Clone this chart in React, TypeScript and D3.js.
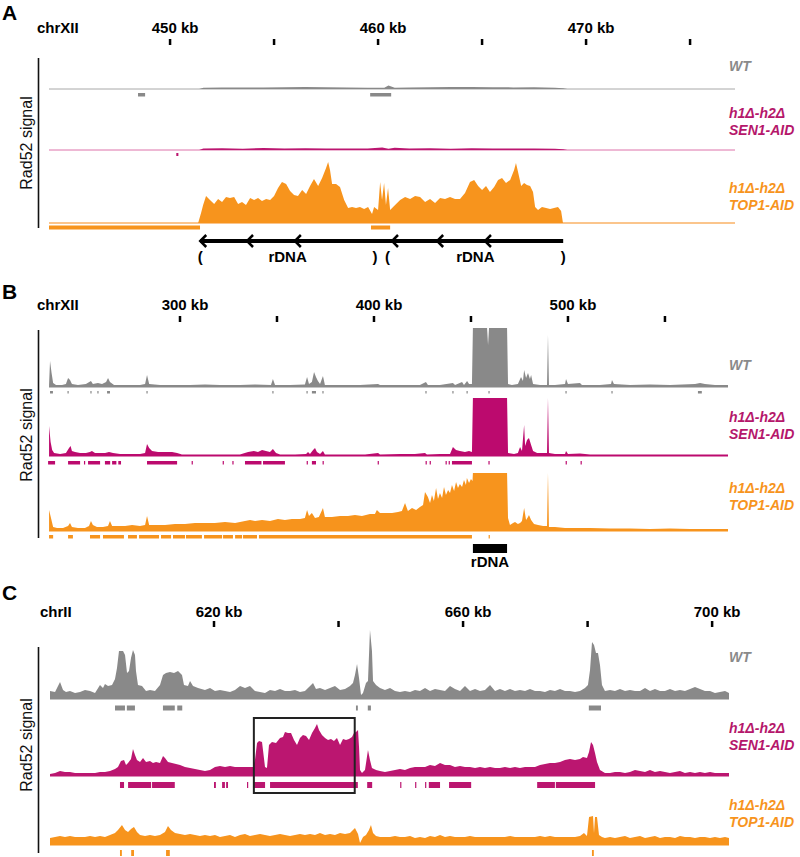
import React, { useRef, useEffect } from 'react';
import * as d3 from 'd3';

const FONT = "'Liberation Sans', Arial, Helvetica, sans-serif";
const GRAY = '#898989';
const GRAY_LIGHT = '#a8a8a8';
const MAGENTA = '#bb1670';
const MAGENTA_LIGHT = '#dd72aa';
const ORANGE = '#f7941d';
const ORANGE_LIGHT = '#fbc58c';

// ---------- panel A : chrXII, rDNA close-up (kb, signal) ----------
const A_TICKS = [450, 455, 460, 465, 470, 475];
const A_TICK_LABELS = [450, 460, 470];
const A_WT = [[444.18, 0], [451.4, 0], [451.6, 1.2], [452.5, 1.4], [453.5, 1.6], [454.5, 1.5], [455.5, 1.8], [456.5, 2], [457.5, 1.8], [458.5, 1.6], [459.5, 1.3], [460.3, 1.2], [460.5, 3.5], [460.8, 1.2], [461.5, 1.5], [462.5, 1.8], [463.5, 2], [464.5, 2], [465.5, 1.8], [466.5, 1.6], [467.5, 1.8], [468.5, 1.2], [468.9, 0.8], [469.1, 0], [477.16, 0]];
const A_SEN1 = [[444.18, 0], [451.4, 0], [451.6, 1.5], [452.5, 1.8], [453.5, 1.2], [454.5, 2], [455.5, 1.5], [456.5, 1.8], [457.5, 1.4], [458.5, 1.6], [459.5, 1.5], [460.2, 2.5], [460.5, 1.2], [460.8, 2.2], [461.5, 1.5], [462.5, 1.8], [463.5, 1.2], [464.5, 1.8], [465.5, 1.4], [466.5, 1.6], [467.5, 1.5], [468.5, 1.2], [468.9, 0.8], [469.1, 0], [477.16, 0]];
const A_TOP1 = [[444.18, 0], [451.35, 0], [451.49, 10], [451.59, 18], [451.73, 27], [451.92, 23], [452.12, 19], [452.31, 24], [452.5, 21], [452.69, 26], [452.88, 25], [453.08, 26], [453.27, 19], [453.46, 21], [453.65, 18], [453.85, 25], [454.04, 23], [454.23, 25], [454.42, 22], [454.62, 24], [454.81, 23], [455.0, 27], [455.19, 35], [455.38, 41], [455.58, 39], [455.77, 32], [455.96, 28], [456.15, 27], [456.35, 33], [456.54, 29], [456.73, 37], [456.92, 44], [457.12, 37], [457.31, 45], [457.5, 55], [457.6, 61], [457.69, 53], [457.79, 39], [457.98, 39], [458.17, 36], [458.37, 23], [458.56, 15], [458.75, 16], [458.94, 15], [459.13, 16], [459.33, 14], [459.52, 16], [459.71, 9], [459.81, 16], [460.0, 13], [460.1, 41], [460.19, 23], [460.29, 40], [460.38, 18], [460.48, 35], [460.58, 13], [460.77, 17], [461.06, 23], [461.3, 26], [461.54, 24], [461.78, 27], [462.02, 26], [462.26, 21], [462.5, 24], [462.74, 20], [462.98, 25], [463.22, 24], [463.46, 26], [463.7, 24], [463.94, 24], [464.18, 30], [464.42, 41], [464.62, 43], [464.81, 37], [465.0, 33], [465.19, 37], [465.38, 31], [465.58, 36], [465.77, 43], [465.96, 45], [466.15, 40], [466.35, 43], [466.54, 53], [466.63, 60], [466.73, 51], [466.88, 37], [467.02, 40], [467.16, 38], [467.31, 37], [467.45, 31], [467.55, 16], [467.69, 13], [467.88, 16], [468.08, 15], [468.27, 14], [468.46, 15], [468.65, 16], [468.8, 12], [468.89, 0], [477.16, 0]];
const A_WT_PEAKS = [[448.46, 448.8], [459.62, 460.63]];
const A_SEN1_PEAKS = [[450.3, 450.4]];
const A_TOP1_PEAKS = [[444.18, 451.44], [459.66, 460.58]];
const A_RDNA_REPEATS = [[451.45, 459.85], [460.45, 468.9]];
const A_RDNA_ARROWS = [451.45, 453.7, 456.0, 460.67, 462.84, 465.14];

// ---------- panel B : chrXII, 230-580 kb ----------
const B_TICKS = [300, 350, 400, 450, 500, 550];
const B_TICK_LABELS = [300, 400, 500];
const B_WT = [[232.5, 2], [233.0, 26], [233.8, 14], [234.6, 4], [236.1, 2], [239.2, 2], [241.2, 3], [242.3, 9], [243.3, 7], [244.3, 3], [247.4, 2], [251.5, 3], [254.1, 6], [255.1, 3], [257.7, 4], [259.8, 3], [261.9, 5], [262.9, 9], [263.9, 5], [266.0, 2], [269.1, 2], [274.2, 2], [279.4, 2], [282.0, 3], [283.0, 12], [284.1, 3], [289.7, 2], [297.4, 2], [305.2, 2], [312.9, 2.5], [320.6, 2], [330.9, 2], [338.7, 2.5], [346.9, 2], [347.9, 8], [349.0, 2], [356.7, 2], [364.4, 2.5], [365.5, 10], [366.5, 3], [368.0, 5], [369.1, 15], [370.1, 10], [371.1, 6], [372.2, 3], [373.7, 11], [374.7, 2], [382.5, 2], [392.8, 2], [402.1, 3], [403.1, 2], [413.4, 2], [423.7, 2], [426.8, 5], [427.8, 2], [434.0, 2], [440.7, 4], [441.8, 2], [445.4, 5], [446.4, 2], [448.0, 6], [449.0, 3], [450.5, 3], [451.0, 59], [458.3, 59], [458.8, 42], [459.3, 59], [468.6, 59], [469.1, 3], [471.1, 2], [474.2, 3], [475.8, 10], [476.8, 6], [477.4, 17], [478.4, 9], [479.4, 14], [480.4, 8], [481.0, 12], [482.0, 3], [485.6, 2], [489.2, 2], [489.7, 52], [490.2, 2], [493.3, 2], [498.5, 3], [499.0, 8], [500.0, 3], [506.2, 4], [507.2, 2], [516.5, 2], [522.2, 3], [522.7, 7], [523.7, 3], [532.0, 2], [542.3, 2.5], [552.6, 2], [565.5, 3], [568.1, 4], [570.6, 3], [575.8, 2], [582.5, 2]];
const B_SEN1 = [[232.5, 30], [233.3, 14], [234.1, 6], [235.1, 3], [238.2, 2], [241.2, 3], [242.8, 8], [243.6, 10], [244.3, 5], [245.9, 4], [248.5, 3], [251.5, 3], [253.6, 4], [254.6, 5], [256.2, 3], [258.8, 3], [261.4, 3], [263.4, 4], [265.5, 3], [269.1, 2], [274.2, 2], [279.4, 2], [282.0, 3], [283.0, 12], [284.1, 8], [285.6, 5], [288.7, 4], [292.3, 4], [295.9, 4], [298.5, 3], [301.0, 1.5], [307.7, 1.5], [315.5, 1.5], [323.2, 1.5], [330.9, 1.5], [335.1, 4], [338.1, 5], [340.2, 4], [342.3, 6], [344.3, 5], [346.4, 4], [347.9, 7], [349.5, 3], [351.6, 1.5], [359.3, 1.5], [365.0, 2], [366.0, 4], [367.0, 2], [368.6, 6], [369.6, 8], [370.6, 4], [372.2, 2], [373.7, 5], [374.7, 1.5], [385.1, 1.5], [395.4, 1.5], [402.1, 3], [403.1, 1.5], [413.4, 2], [421.1, 2], [426.3, 3], [427.3, 1.5], [434.0, 2], [439.2, 2], [440.7, 9], [442.3, 6], [444.3, 5], [446.9, 4], [449.0, 5], [450.5, 4], [451.0, 58], [468.6, 58], [469.1, 3], [472.2, 2], [474.2, 3], [475.3, 9], [476.3, 5], [477.4, 31], [477.9, 10], [478.9, 16], [479.9, 18], [481.0, 11], [482.0, 5], [484.1, 3], [486.6, 3], [489.2, 3], [489.7, 58], [490.2, 3], [493.3, 2], [498.5, 2], [499.0, 5], [500.0, 2], [506.2, 2.5], [511.4, 1.5], [521.7, 1.5], [532.0, 1.5], [542.3, 1.5], [552.6, 1.5], [562.9, 1.5], [573.2, 1.5], [582.5, 1.5]];
const B_TOP1 = [[232.5, 21], [233.5, 13], [234.6, 4], [236.6, 3], [239.7, 3], [242.3, 5], [243.3, 8], [244.3, 4], [247.4, 3], [251.0, 3], [253.1, 5], [254.1, 10], [255.1, 6], [257.2, 4], [260.3, 4], [262.9, 5], [263.9, 10], [265.0, 5], [268.0, 5], [271.7, 5], [275.3, 6], [279.4, 5], [282.0, 6], [283.0, 15], [284.1, 6], [287.2, 6], [292.3, 6], [297.4, 7], [302.6, 7], [307.7, 8], [312.9, 8], [318.0, 8], [323.2, 9], [328.4, 8], [333.5, 10], [336.1, 11], [338.7, 10], [342.3, 11], [346.4, 10], [350.5, 12], [354.1, 11], [357.7, 12], [361.9, 12], [364.4, 13], [365.5, 21], [366.5, 15], [368.0, 18], [369.6, 13], [371.6, 14], [373.7, 23], [374.7, 14], [378.3, 14], [382.5, 15], [386.6, 15], [390.2, 16], [393.8, 15], [397.9, 17], [400.5, 17], [401.5, 21], [403.1, 18], [406.2, 18], [409.3, 18], [412.4, 19], [414.4, 20], [416.0, 28], [417.5, 20], [419.6, 23], [421.7, 21], [423.7, 24], [425.3, 26], [426.3, 39], [427.8, 34], [428.9, 28], [429.9, 36], [430.9, 30], [432.0, 43], [433.0, 32], [434.0, 38], [435.1, 33], [436.1, 44], [437.1, 36], [438.2, 41], [439.2, 38], [440.2, 46], [441.3, 40], [442.3, 49], [443.3, 43], [444.3, 47], [445.4, 44], [446.4, 51], [447.4, 46], [447.9, 53], [449.0, 48], [450.0, 52], [450.8, 50], [451.0, 58], [468.6, 58], [469.1, 13], [470.1, 6], [471.7, 8], [472.7, 9], [474.2, 7], [475.3, 8], [476.3, 10], [477.4, 23], [478.4, 11], [479.4, 14], [479.9, 16], [481.0, 11], [482.5, 7], [484.6, 6], [487.2, 5], [489.2, 5], [489.7, 58], [490.2, 4], [493.3, 4], [498.5, 3], [503.6, 3], [511.4, 3], [521.7, 2.5], [532.0, 2.5], [542.3, 2], [552.6, 2.5], [562.9, 2], [573.2, 2], [582.5, 2]];
const B_WT_PEAKS = [[233.0, 234.5], [242.0, 242.6], [253.8, 254.4], [257.4, 258.0], [262.4, 263.9], [282.7, 283.3], [347.6, 348.2], [365.2, 365.8], [368.0, 370.1], [373.4, 374.0], [426.5, 427.1], [440.4, 441.0], [447.7, 448.3], [459.0, 459.6], [498.7, 499.3], [522.4, 523.0], [567.0, 569.0]];
const B_SEN1_PEAKS = [[232.0, 235.6], [242.3, 248.5], [250.5, 251.0], [252.6, 258.8], [261.3, 264.0], [265.0, 267.2], [268.2, 269.6], [283.0, 298.5], [306.0, 306.5], [322.0, 322.5], [327.0, 327.5], [333.5, 342.0], [342.8, 354.1], [365.3, 365.8], [368.0, 370.1], [373.5, 374.0], [401.9, 402.4], [426.6, 427.1], [428.7, 429.2], [436.9, 437.4], [438.5, 439.0], [440.2, 450.5], [459.0, 459.6], [498.8, 499.3], [506.5, 507.0]];
const B_TOP1_PEAKS = [[232.5, 234.6], [242.3, 244.8], [253.6, 258.8], [260.3, 271.1], [273.2, 277.8], [278.9, 289.2], [290.2, 295.4], [296.4, 302.6], [303.1, 311.3], [312.4, 321.7], [322.2, 327.3], [328.4, 332.0], [332.5, 339.7], [340.7, 450.5], [459.1, 459.6]];
const B_RDNA = [451.0, 468.6];

// ---------- panel C : chrII, 594-703 kb ----------
const C_TICKS = [620, 640, 660, 680, 700];
const C_TICK_LABELS = [620, 660, 700];
const C_WT = [[593.66, 8], [594.47, 7], [595.27, 17], [595.75, 9], [596.23, 7], [596.87, 8], [597.68, 6], [598.48, 7], [599.28, 9], [600.09, 8], [600.89, 6], [601.69, 14], [602.17, 11], [602.49, 15], [602.98, 13], [603.62, 14], [604.10, 20], [604.42, 31], [604.74, 48], [605.06, 48], [605.39, 48], [605.71, 44], [606.03, 26], [606.35, 28], [606.67, 41], [606.99, 49], [607.31, 44], [607.47, 28], [607.79, 14], [608.44, 13], [609.08, 8], [609.72, 9], [610.52, 8], [611.33, 14], [611.81, 24], [612.29, 26], [612.93, 27], [613.58, 26], [614.22, 28], [614.86, 24], [615.18, 14], [615.82, 13], [616.15, 18], [616.63, 13], [617.43, 11], [618.55, 9], [619.36, 11], [620.16, 8], [620.96, 9], [621.77, 8], [622.57, 7], [623.37, 9], [624.18, 13], [624.98, 11], [625.78, 13], [626.58, 8], [627.39, 7], [628.19, 6], [628.99, 9], [629.80, 8], [630.60, 10], [631.40, 8], [632.21, 8], [633.01, 9], [633.81, 7], [634.61, 8], [635.42, 13], [635.90, 16], [636.38, 10], [637.02, 11], [637.83, 9], [638.63, 11], [639.43, 13], [640.24, 9], [641.04, 10], [641.84, 13], [642.32, 16], [642.64, 24], [642.97, 35], [643.29, 21], [643.61, 4], [643.93, 6], [644.41, 16], [644.73, 18], [645.05, 69], [645.37, 48], [645.54, 18], [646.02, 14], [646.66, 11], [647.46, 9], [648.27, 11], [649.07, 8], [649.87, 7], [650.67, 8], [651.48, 7], [652.28, 9], [653.08, 8], [653.89, 11], [654.69, 8], [655.49, 10], [656.30, 9], [657.10, 8], [657.90, 13], [658.70, 10], [659.51, 8], [660.31, 13], [661.11, 8], [661.92, 10], [662.72, 8], [663.52, 9], [664.33, 14], [665.13, 8], [665.93, 10], [666.73, 8], [667.54, 10], [668.34, 8], [669.14, 9], [669.95, 8], [670.75, 10], [671.55, 8], [672.36, 8], [673.16, 7], [673.96, 9], [674.76, 8], [675.57, 10], [676.37, 8], [677.17, 8], [677.98, 7], [678.78, 8], [679.58, 11], [680.06, 14], [680.39, 29], [680.71, 57], [681.03, 54], [681.35, 46], [681.67, 46], [681.99, 34], [682.31, 14], [682.79, 8], [683.60, 9], [684.40, 8], [685.20, 10], [686.01, 8], [686.81, 9], [687.61, 8], [688.42, 8], [689.22, 11], [690.02, 8], [690.82, 10], [691.63, 8], [692.43, 8], [693.23, 10], [694.04, 8], [694.84, 9], [695.64, 8], [696.45, 10], [697.25, 12], [698.05, 10], [698.85, 8], [699.66, 8], [700.46, 6], [701.26, 7], [702.07, 8], [702.71, 6]];
const C_SEN1 = [[593.66, 2], [594.47, 3], [595.27, 5], [596.07, 4], [596.87, 4], [597.68, 3], [598.48, 3], [599.28, 3], [600.09, 3], [600.89, 3], [601.69, 4], [602.49, 4], [603.30, 5], [604.10, 7], [604.58, 9], [605.06, 15], [605.55, 16], [605.87, 11], [606.19, 13], [606.67, 17], [606.99, 27], [607.31, 21], [607.63, 16], [608.12, 14], [608.60, 18], [609.08, 14], [609.72, 15], [610.20, 13], [610.69, 14], [611.33, 13], [611.81, 20], [612.13, 18], [612.61, 14], [613.25, 13], [613.90, 12], [614.54, 11], [615.34, 9], [616.15, 8], [616.95, 7], [617.75, 6], [618.55, 5], [619.36, 6], [620.16, 9], [620.96, 10], [621.77, 9], [622.57, 10], [623.37, 9], [624.18, 9], [624.98, 9], [625.78, 9], [626.26, 9], [626.58, 16], [626.91, 33], [627.23, 35], [627.71, 34], [628.19, 9], [628.51, 8], [628.83, 31], [629.31, 34], [629.96, 33], [630.60, 38], [631.08, 39], [631.40, 44], [631.88, 43], [632.37, 43], [632.85, 36], [633.33, 31], [633.81, 38], [634.29, 41], [634.78, 40], [635.26, 36], [635.74, 43], [636.22, 48], [636.54, 52], [636.86, 46], [637.34, 41], [637.83, 38], [638.31, 36], [638.79, 37], [639.27, 35], [639.75, 38], [640.24, 31], [640.72, 37], [641.20, 36], [641.68, 37], [642.16, 39], [642.48, 43], [642.81, 44], [643.13, 46], [643.29, 29], [643.45, 6], [643.77, 3], [644.25, 6], [644.73, 26], [645.05, 16], [645.37, 8], [646.02, 6], [646.66, 5], [647.46, 4], [648.27, 5], [649.07, 6], [649.87, 7], [650.67, 6], [651.48, 8], [652.28, 9], [653.08, 9], [653.89, 9], [654.69, 11], [655.49, 10], [656.30, 13], [657.10, 11], [657.90, 11], [658.70, 9], [659.51, 10], [660.31, 9], [661.11, 9], [661.92, 8], [662.72, 9], [663.52, 8], [664.33, 9], [665.13, 8], [665.93, 8], [666.73, 9], [667.54, 8], [668.34, 9], [669.14, 8], [669.95, 9], [670.75, 9], [671.55, 9], [672.36, 11], [673.16, 12], [673.96, 13], [674.76, 13], [675.57, 14], [676.37, 16], [677.17, 17], [677.98, 16], [678.78, 17], [679.26, 19], [679.90, 18], [680.23, 24], [680.55, 34], [680.87, 31], [681.19, 23], [681.51, 14], [681.99, 6], [682.79, 3], [683.60, 3], [684.40, 4], [685.20, 4], [686.01, 3], [686.81, 4], [687.61, 6], [688.42, 5], [689.22, 4], [690.02, 6], [690.82, 4], [691.63, 5], [692.43, 4], [693.23, 3], [694.04, 4], [694.84, 5], [695.64, 3], [696.45, 4], [697.25, 3], [698.05, 4], [698.85, 3], [699.66, 4], [700.46, 3], [701.26, 3], [702.07, 3], [702.71, 3]];
const C_TOP1 = [[593.66, 7], [594.47, 8], [595.27, 9], [596.07, 8], [596.87, 9], [597.68, 8], [598.48, 8], [599.28, 8], [600.09, 9], [600.89, 8], [601.69, 9], [602.49, 8], [603.30, 10], [604.10, 12], [604.58, 15], [605.22, 20], [605.71, 15], [606.19, 13], [606.67, 16], [607.15, 18], [607.63, 13], [608.12, 10], [608.92, 9], [609.72, 10], [610.52, 9], [611.33, 10], [612.13, 13], [612.61, 19], [613.09, 15], [613.74, 12], [614.54, 11], [615.34, 10], [616.15, 11], [616.95, 10], [617.75, 9], [618.55, 10], [619.36, 9], [620.16, 10], [620.96, 8], [621.77, 9], [622.57, 10], [623.37, 8], [624.18, 10], [624.98, 11], [625.78, 9], [626.58, 10], [627.39, 11], [628.19, 10], [628.99, 9], [629.80, 10], [630.60, 11], [631.40, 10], [632.21, 9], [633.01, 10], [633.81, 11], [634.61, 10], [635.42, 11], [636.22, 10], [637.02, 12], [637.83, 10], [638.63, 11], [639.43, 10], [640.24, 12], [641.04, 11], [641.84, 12], [642.64, 17], [643.13, 11], [643.45, 2], [643.93, 8], [644.41, 10], [644.89, 15], [645.21, 20], [645.54, 12], [646.02, 9], [646.66, 8], [647.46, 8], [648.27, 8], [649.07, 9], [649.87, 8], [650.67, 8], [651.48, 9], [652.28, 7], [653.08, 8], [653.89, 7], [654.69, 9], [655.49, 8], [656.30, 10], [657.10, 8], [657.90, 9], [658.70, 8], [659.51, 8], [660.31, 8], [661.11, 9], [661.92, 8], [662.72, 8], [663.52, 8], [664.33, 8], [665.13, 8], [665.93, 8], [666.73, 8], [667.54, 9], [668.34, 8], [669.14, 8], [669.95, 8], [670.75, 8], [671.55, 8], [672.36, 9], [673.16, 8], [673.96, 9], [674.76, 8], [675.57, 8], [676.37, 8], [677.17, 8], [677.98, 8], [678.78, 9], [679.42, 12], [679.90, 9], [680.23, 28], [680.87, 29], [681.03, 12], [681.19, 28], [681.51, 28], [681.83, 10], [682.31, 8], [682.79, 7], [683.60, 8], [684.40, 7], [685.20, 8], [686.01, 9], [686.81, 7], [687.61, 8], [688.42, 9], [689.22, 7], [690.02, 8], [690.82, 9], [691.63, 7], [692.43, 8], [693.23, 8], [694.04, 7], [694.84, 9], [695.64, 8], [696.45, 8], [697.25, 7], [698.05, 8], [698.85, 8], [699.66, 7], [700.46, 8], [701.26, 7], [702.07, 8], [702.71, 7]];
const C_WT_PEAKS = [[604.1, 605.7], [606.0, 607.3], [611.8, 613.7], [614.1, 614.9], [642.8, 643.1], [644.7, 645.2], [680.2, 682.15]];
const C_SEN1_PEAKS = [[604.9, 605.55], [606.2, 609.9], [610.05, 613.7], [620.0, 620.3], [621.3, 621.75], [621.95, 622.25], [625.3, 625.45], [626.26, 628.2], [629.0, 643.1], [644.6, 645.4], [649.9, 650.05], [652.3, 652.45], [653.9, 654.05], [654.5, 656.3], [657.75, 661.3], [671.9, 674.75], [674.9, 681.2]];
const C_TOP1_PEAKS = [[604.9, 605.2], [606.7, 607.15], [612.3, 612.9], [680.7, 681.0]];
const C_BOX = [626.4, 642.6];

const TRACK_NAMES = [
  { lines: ['WT'], color: '#8a8a8a' },
  { lines: ['h1\u0394-h2\u0394', 'SEN1-AID'], color: '#b5176b' },
  { lines: ['h1\u0394-h2\u0394', 'TOP1-AID'], color: ORANGE },
];

const App = () => {
  const ref = useRef(null);

  useEffect(() => {
    const svg = d3.select(ref.current);
    svg.selectAll('*').remove();
    svg.attr('font-family', FONT);

    const drawPanel = (p) => {
      const g = svg.append('g');
      const x = d3.scaleLinear().domain(p.domain).range(p.range);

      g.append('text').attr('x', 2).attr('y', p.letterY).attr('font-size', 21)
        .attr('font-weight', 'bold').text(p.letter);
      g.append('text').attr('x', p.chromX).attr('y', p.labelY).attr('font-size', 15)
        .attr('font-weight', 'bold').text(p.chrom);

      g.selectAll(null).data(p.ticks).join('line')
        .attr('x1', d => x(d)).attr('x2', d => x(d))
        .attr('y1', p.tickY).attr('y2', p.tickY + 6)
        .attr('stroke', '#000').attr('stroke-width', 2.5);
      g.selectAll(null).data(p.tickLabels).join('text')
        .attr('x', d => x(d) + 5).attr('y', p.labelY)
        .attr('text-anchor', 'middle').attr('font-size', 15).attr('font-weight', 'bold')
        .text(d => `${d} kb`);

      // vertical signal axis
      g.append('line').attr('x1', 38.5).attr('x2', 38.5)
        .attr('y1', p.axis[0]).attr('y2', p.axis[1])
        .attr('stroke', '#111').attr('stroke-width', 1.6);
      g.append('text')
        .attr('transform', `translate(32,${(p.axis[0] + p.axis[1]) / 2 + p.sigShift}) rotate(-90)`)
        .attr('text-anchor', 'middle').attr('font-size', 16).attr('fill', '#111')
        .text('Rad52 signal');

      p.tracks.forEach((t, i) => {
        const y = d3.scaleLinear().domain([0, 60]).range([t.base, t.base - 60]);
        g.append('line').attr('x1', p.range[0]).attr('x2', p.range[1])
          .attr('y1', t.base).attr('y2', t.base)
          .attr('stroke', t.line).attr('stroke-width', t.lineW);
        g.append('path').datum(t.data).attr('fill', t.color)
          .attr('d', d3.area().x(d => x(d[0])).y0(t.base).y1(d => y(d[1])));
        g.selectAll(null).data(t.peaks).join('rect')
          .attr('x', d => x(d[0]))
          .attr('width', d => Math.max(1.2, x(d[1]) - x(d[0])))
          .attr('y', t.peakY).attr('height', t.peakH).attr('fill', t.color);

        const name = TRACK_NAMES[i];
        g.selectAll(null).data(name.lines).join('text')
          .attr('x', 729).attr('y', (d, j) => t.nameY + j * 17)
          .attr('font-size', 14).attr('font-weight', 'bold').attr('font-style', 'italic')
          .attr('fill', name.color).text(d => d);
      });
      return { g, x };
    };

    // ---- A ----
    const a = drawPanel({
      letter: 'A', letterY: 19.5, chrom: 'chrXII', chromX: 37, labelY: 33, tickY: 39,
      domain: [444.18, 477.16], range: [49, 735], ticks: A_TICKS, tickLabels: A_TICK_LABELS,
      axis: [58, 228], sigShift: 0,
      tracks: [
        { data: A_WT, peaks: A_WT_PEAKS, base: 89, peakY: 93, peakH: 3.5, color: GRAY, line: GRAY_LIGHT, lineW: 1, nameY: 71 },
        { data: A_SEN1, peaks: A_SEN1_PEAKS, base: 150, peakY: 153, peakH: 3, color: MAGENTA, line: MAGENTA_LIGHT, lineW: 1, nameY: 118 },
        { data: A_TOP1, peaks: A_TOP1_PEAKS, base: 223, peakY: 225.5, peakH: 4, color: ORANGE, line: ORANGE_LIGHT, lineW: 2, nameY: 193 },
      ],
    });
    const rdnaY = 241;
    a.g.append('line')
      .attr('x1', a.x(A_RDNA_REPEATS[0][0])).attr('x2', a.x(A_RDNA_REPEATS[A_RDNA_REPEATS.length - 1][1]))
      .attr('y1', rdnaY).attr('y2', rdnaY).attr('stroke', '#000').attr('stroke-width', 4);
    a.g.selectAll(null).data(A_RDNA_ARROWS).join('path')
      .attr('d', d => `M${a.x(d) + 6},${rdnaY - 6} L${a.x(d)},${rdnaY} L${a.x(d) + 6},${rdnaY + 6}`)
      .attr('fill', 'none').attr('stroke', '#000').attr('stroke-width', 2.5);
    A_RDNA_REPEATS.forEach(([s, e]) => {
      [[s, '('], [e, ')'], [(s + e) / 2, 'rDNA']].forEach(([k, txt]) => {
        a.g.append('text').attr('x', a.x(k)).attr('y', 262).attr('text-anchor', 'middle')
          .attr('font-size', 15).attr('font-weight', 'bold').text(txt);
      });
    });

    // ---- B ----
    const b = drawPanel({
      letter: 'B', letterY: 299, chrom: 'chrXII', chromX: 37, labelY: 310, tickY: 316,
      domain: [232.47, 582.5], range: [49, 728], ticks: B_TICKS, tickLabels: B_TICK_LABELS,
      axis: [330, 538], sigShift: 1,
      tracks: [
        { data: B_WT, peaks: B_WT_PEAKS, base: 387, peakY: 391, peakH: 2.5, color: GRAY, line: GRAY, lineW: 1, nameY: 370 },
        { data: B_SEN1, peaks: B_SEN1_PEAKS, base: 456, peakY: 461, peakH: 3.5, color: '#bc0a6e', line: '#bc0a6e', lineW: 1, nameY: 422 },
        { data: B_TOP1, peaks: B_TOP1_PEAKS, base: 531, peakY: 535, peakH: 3.5, color: ORANGE, line: ORANGE, lineW: 1, nameY: 493 },
      ],
    });
    b.g.append('rect').attr('x', b.x(B_RDNA[0])).attr('width', b.x(B_RDNA[1]) - b.x(B_RDNA[0]))
      .attr('y', 544).attr('height', 9).attr('fill', '#000');
    b.g.append('text').attr('x', b.x((B_RDNA[0] + B_RDNA[1]) / 2)).attr('y', 567)
      .attr('text-anchor', 'middle').attr('font-size', 15).attr('font-weight', 'bold').text('rDNA');

    // ---- C ----
    const c = drawPanel({
      letter: 'C', letterY: 600, chrom: 'chrII', chromX: 40, labelY: 617, tickY: 621,
      domain: [593.66, 702.71], range: [50, 729], ticks: C_TICKS, tickLabels: C_TICK_LABELS,
      axis: [647, 853], sigShift: -5,
      tracks: [
        { data: C_WT, peaks: C_WT_PEAKS, base: 699, peakY: 705.5, peakH: 5, color: GRAY, line: GRAY, lineW: 1, nameY: 662 },
        { data: C_SEN1, peaks: C_SEN1_PEAKS, base: 776, peakY: 782, peakH: 6, color: MAGENTA, line: MAGENTA, lineW: 1, nameY: 733 },
        { data: C_TOP1, peaks: C_TOP1_PEAKS, base: 845, peakY: 850, peakH: 6, color: ORANGE, line: ORANGE, lineW: 1, nameY: 810 },
      ],
    });
    c.g.append('rect').attr('x', c.x(C_BOX[0])).attr('width', c.x(C_BOX[1]) - c.x(C_BOX[0]))
      .attr('y', 718).attr('height', 75).attr('fill', 'none')
      .attr('stroke', '#222').attr('stroke-width', 2);
  }, []);

  return (
    <svg ref={ref} width={800} height={857}
      style={{ position: 'absolute', left: 0, top: 0, display: 'block', background: '#fff' }} />
  );
};

export default App;
